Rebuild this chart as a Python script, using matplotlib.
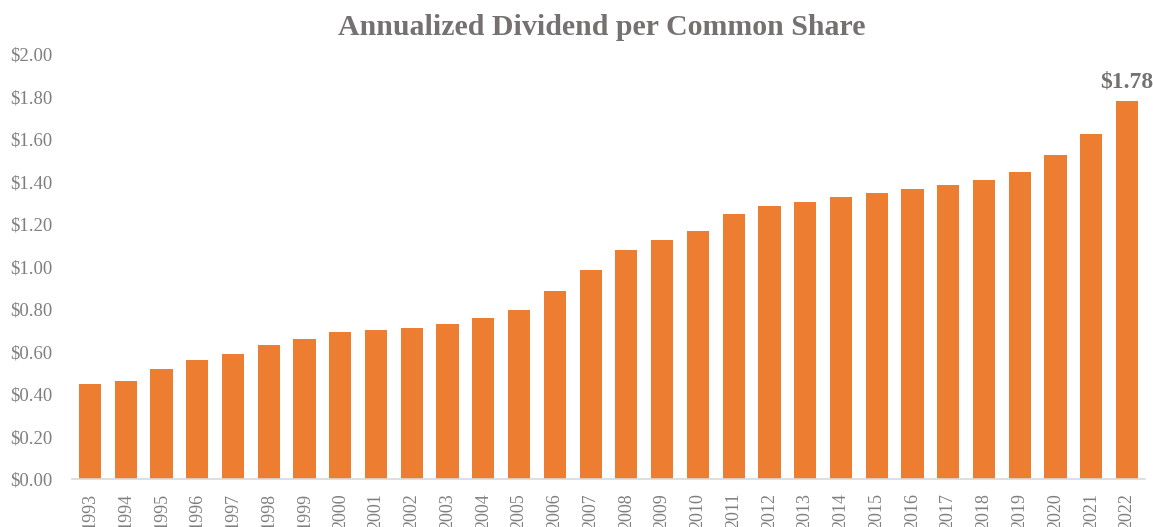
import matplotlib
matplotlib.use("Agg")
from matplotlib import pyplot as plt

# annualized dividend per common share
years = [str(y) for y in range(1993, 2023)]
dividends = [0.445, 0.46, 0.52, 0.56, 0.59, 0.63, 0.66, 0.69, 0.70, 0.71,
             0.73, 0.76, 0.795, 0.885, 0.985, 1.08, 1.125, 1.165, 1.245, 1.285,
             1.305, 1.325, 1.345, 1.365, 1.385, 1.405, 1.445, 1.525, 1.625, 1.78]
yticks = [0.0, 0.2, 0.4, 0.6, 0.8, 1.0, 1.2, 1.4, 1.6, 1.8, 2.0]

plt.rcParams['font.family'] = ['Liberation Serif', 'DejaVu Serif']
gray = '#7f7f7f'

fig = plt.figure(figsize=(11.53, 5.27), dpi=100)
ax = fig.add_axes([0.0625, 0.091, 0.9305, 0.8065])

x = list(range(len(years)))
ax.bar(x, dividends, width=0.62, color='#ed7d31')

ax.set_xlim(-0.5, len(years) - 0.5)
ax.set_ylim(0, 2.0)
ax.set_yticks(yticks)
ax.set_yticklabels(['$%.2f' % v for v in yticks], color=gray, fontsize=13.5)
ax.set_xticks(x)
ax.set_xticklabels(years, rotation=90, color=gray, fontsize=13)
ax.tick_params(length=0)
ax.tick_params(axis='x', pad=10)
ax.tick_params(axis='y', pad=14)

for s in ['top', 'right', 'left']:
    ax.spines[s].set_visible(False)
ax.spines['bottom'].set_color('#d9d9d9')
ax.spines['bottom'].set_linewidth(1.2)

# label on the last bar
ax.annotate('$%.2f' % dividends[-1], (x[-1], dividends[-1]), xytext=(0, 6),
            textcoords='offset points', ha='center', va='bottom',
            fontsize=17, fontweight='bold', color='#767171')

fig.text(0.522, 0.947, 'Annualized Dividend per Common Share', ha='center', va='center',
         fontsize=21.5, fontweight='bold', color='#767171')

fig.savefig('out.png', dpi=100)
